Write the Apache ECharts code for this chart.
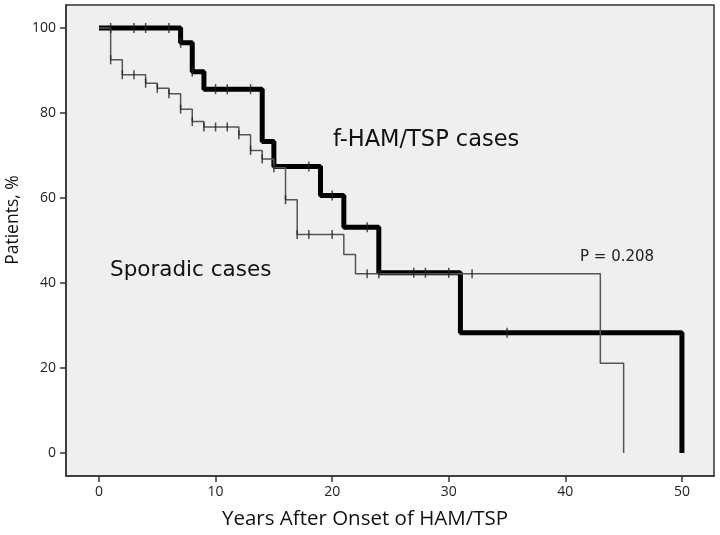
<!DOCTYPE html>
<html>
<head>
<meta charset="utf-8">
<script src="https://cdn.jsdelivr.net/npm/echarts@6/dist/echarts.min.js"></script>
<style>
html, body { margin: 0; padding: 0; background: #fff; }
#main { width: 720px; height: 535px; }
</style>
</head>
<body>
<div id="main"></div>
<script>
// tick labels
const xTicks = [0, 10, 20, 30, 40, 50]
const yTicks = [0, 20, 40, 60, 80, 100]

// f-HAM/TSP cases (thick curve): event times and survival, %
const famTimes = [0, 7, 8, 9, 14, 15, 19, 21, 24, 31, 50]
const famSurv = [100, 96.5, 89.7, 85.6, 73.3, 67.4, 60.6, 53.1, 42.4, 28.3, 0]
// censored points
const famCensTimes = [1, 3, 4, 6, 7, 8, 10, 11, 13, 18, 20, 23, 27, 28, 30, 35]
const famCensSurv = [100, 100, 100, 100, 96.5, 89.7, 85.6, 85.6, 85.6, 67.4, 60.6, 53.1, 42.4, 42.4, 42.4, 28.3]

// Sporadic cases (thin curve)
const sporTimes = [0, 1, 2, 4, 5, 6, 7, 8, 9, 12, 13, 14, 15, 16, 17, 21, 22, 43, 45]
const sporSurv = [100, 92.5, 89.0, 87.0, 85.8, 84.5, 80.9, 78.0, 76.7, 74.9, 71.2, 69.2, 67.1, 59.6, 51.4, 46.7, 42.2, 21.1, 0]
const sporCensTimes = [1, 2, 3, 4, 5, 6, 7, 8, 9, 10, 11, 12, 13, 14, 15, 16, 17, 18, 20, 23, 24, 32]
const sporCensSurv = [92.5, 89.0, 89.0, 87.0, 85.8, 84.5, 80.9, 78.0, 76.7, 76.7, 76.7, 74.9, 71.2, 69.2, 67.1, 59.6, 51.4, 51.4, 51.4, 42.2, 42.2, 42.2]

const zip = (xs, ys) => xs.map((x, i) => [x, ys[i]])

const chart = echarts.init(document.getElementById('main'))
const labelFont = '"Open Sans", sans-serif'
const noteFont = '"DejaVu Sans", sans-serif'

chart.setOption({
  animation: false,
  backgroundColor: '#fff',
  grid: {
    left: 66, right: 6, top: 5, bottom: 58,
    show: true,
    backgroundColor: '#efefef',
    borderColor: '#333',
    borderWidth: 1.5
  },
  xAxis: {
    type: 'value',
    min: -2.83,
    max: 52.75,
    name: 'Years After Onset of HAM/TSP',
    nameLocation: 'middle',
    nameGap: 33,
    nameTextStyle: { fontFamily: labelFont, fontSize: 20.5, color: '#111', padding: [0, 50, 0, 0] },
    axisLine: { show: true, onZero: false, lineStyle: { color: '#333', width: 1.5 } },
    axisTick: { show: true, customValues: xTicks, length: 6, lineStyle: { color: '#333', width: 1.5 } },
    axisLabel: { customValues: xTicks, margin: 9, fontFamily: labelFont, fontSize: 14, color: '#222' },
    splitLine: { show: false }
  },
  yAxis: {
    type: 'value',
    min: -5.4,
    max: 105.4,
    axisLine: { show: true, onZero: false, lineStyle: { color: '#333', width: 1.5 } },
    axisTick: { show: true, customValues: yTicks, length: 6, lineStyle: { color: '#333', width: 1.5 } },
    axisLabel: { customValues: yTicks, margin: 10, fontFamily: labelFont, fontSize: 14, color: '#222' },
    splitLine: { show: false }
  },
  series: [
    {
      name: 'f-HAM/TSP cases',
      type: 'line',
      step: 'end',
      showSymbol: false,
      data: zip(famTimes, famSurv),
      lineStyle: { color: '#000', width: 5 },
      z: 2
    },
    {
      name: 'Sporadic cases',
      type: 'line',
      step: 'end',
      showSymbol: false,
      data: zip(sporTimes, sporSurv),
      lineStyle: { color: '#555', width: 1.5 },
      z: 3
    },
    {
      type: 'scatter',
      data: zip(famCensTimes, famCensSurv),
      symbol: 'rect',
      symbolSize: [1.5, 10],
      itemStyle: { color: '#222' },
      z: 4
    },
    {
      type: 'scatter',
      data: zip(sporCensTimes, sporCensSurv),
      symbol: 'rect',
      symbolSize: [1.5, 9],
      itemStyle: { color: '#222' },
      z: 4
    }
  ],
  graphic: [
    {
      type: 'text', x: 13, y: 220, rotation: Math.PI / 2,
      style: { text: 'Patients, %', fontFamily: labelFont, fontSize: 17.5, fill: '#111', align: 'center', verticalAlign: 'middle' }
    },
    {
      type: 'text', left: 333, top: 129,
      style: { text: 'f-HAM/TSP cases', fontFamily: noteFont, fontSize: 22.5, fill: '#111' }
    },
    {
      type: 'text', left: 110, top: 259,
      style: { text: 'Sporadic cases', fontFamily: noteFont, fontSize: 21.5, fill: '#111' }
    },
    {
      type: 'text', left: 580, top: 250,
      style: { text: 'P = 0.208', fontFamily: noteFont, fontSize: 15, fill: '#222' }
    }
  ]
})
</script>
</body>
</html>
